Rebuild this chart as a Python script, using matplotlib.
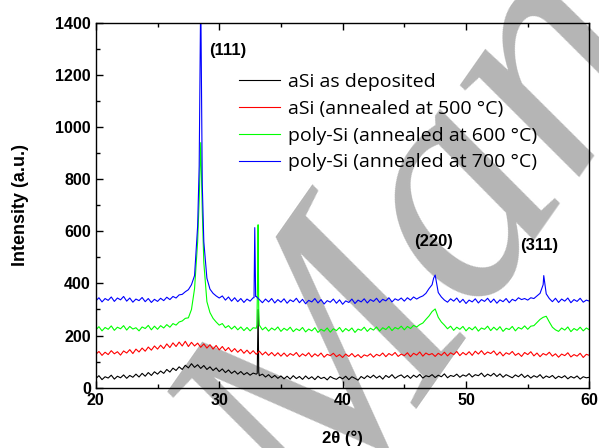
import matplotlib
matplotlib.use('Agg')
import matplotlib.pyplot as plt
import numpy as np

#Datos (2theta cada 0.25 grados, de 20 a 60)
two_theta = np.arange(20, 60.001, 0.25)

y_asdep = [35, 46, 31, 42, 37, 48, 33, 44, 38, 49,
           36, 47, 40, 52, 41, 55, 44, 58, 47, 61,
           52, 64, 55, 70, 60, 75, 66, 80, 70, 86,
           76, 92, 78, 88, 74, 85, 70, 80, 66, 76,
           62, 72, 58, 68, 55, 64, 52, 62, 50, 58,
           48, 56, 52, 46, 52, 41, 50, 38, 47, 36,
           45, 34, 44, 33, 46, 35, 43, 32, 45, 34,
           42, 31, 44, 35, 40, 30, 43, 36, 32, 41,
           34, 44, 31, 42, 36, 29, 43, 35, 46, 38,
           48, 37, 45, 33, 47, 39, 50, 36, 44, 49,
           38, 47, 36, 48, 40, 51, 37, 46, 42, 50,
           39, 48, 42, 53, 38, 47, 43, 52, 40, 49,
           44, 54, 41, 50, 46, 56, 42, 52, 45, 55,
           43, 53, 40, 50, 44, 38, 49, 42, 52, 39,
           48, 37, 46, 40, 50, 36, 45, 39, 47, 35,
           44, 38, 46, 34, 43, 37, 45, 33, 42, 38,
           40]
y_500 = [128, 139, 124, 136, 127, 142, 130, 138, 125, 141,
         133, 146, 131, 148, 137, 152, 140, 156, 144, 160,
         148, 163, 150, 168, 154, 172, 158, 175, 160, 178,
         158, 174, 160, 171, 155, 168, 152, 165, 148, 162,
         145, 158, 142, 154, 138, 150, 136, 147, 132, 144,
         130, 142, 128, 140, 126, 137, 124, 135, 122, 134,
         121, 133, 120, 131, 124, 135, 119, 130, 122, 134,
         118, 130, 121, 133, 117, 128, 123, 132, 119, 127,
         116, 129, 120, 131, 118, 127, 115, 126, 121, 130,
         117, 128, 122, 133, 119, 131, 124, 135, 120, 129,
         123, 134, 119, 132, 125, 137, 121, 133, 126, 131,
         120, 132, 124, 136, 122, 134, 127, 139, 123, 135,
         126, 138, 124, 140, 129, 142, 127, 137, 131, 141,
         125, 137, 122, 134, 128, 139, 124, 132, 120, 135,
         127, 138, 122, 133, 119, 131, 125, 136, 121, 130,
         117, 129, 123, 134, 118, 127, 121, 132, 116, 128,
         124]
y_600 = [222, 234, 218, 231, 224, 237, 220, 232, 226, 238,
         221, 235, 225, 230, 218, 233, 227, 239, 222, 236,
         224, 238, 229, 242, 232, 246, 240, 252, 256, 266,
         268, 300, 380, 560, 940, 480, 330, 288, 266, 252,
         240, 246, 230, 238, 225, 236, 222, 233, 219, 231,
         218, 230, 228, 240, 222, 232, 217, 229, 221, 233,
         216, 228, 220, 232, 215, 226, 219, 231, 214, 225,
         218, 230, 212, 224, 217, 229, 213, 226, 219, 231,
         214, 227, 218, 229, 212, 225, 220, 232, 216, 228,
         221, 233, 217, 230, 223, 235, 219, 231, 225, 236,
         222, 235, 227, 239, 233, 242, 248, 262, 275, 292,
         302, 270, 252, 240, 226, 236, 220, 232, 224, 235,
         218, 231, 222, 234, 217, 229, 224, 236, 219, 232,
         221, 234, 216, 228, 223, 235, 218, 231, 225, 237,
         224, 236, 238, 250, 262, 270, 274, 252, 232, 222,
         216, 229, 221, 233, 215, 227, 220, 232, 218, 229,
         222]
y_700 = [333, 345, 329, 342, 335, 348, 331, 344, 337, 350,
         332, 344, 328, 340, 334, 346, 330, 342, 327, 339,
         331, 343, 334, 347, 338, 350, 344, 356, 358, 368,
         376, 395, 430, 620, 1520, 560, 420, 378, 362, 352,
         344, 352, 336, 348, 332, 345, 330, 342, 327, 340,
         332, 345, 350, 338, 326, 340, 329, 342, 325, 338,
         328, 341, 324, 337, 330, 343, 326, 339, 322, 335,
         329, 342, 325, 338, 321, 334, 328, 340, 324, 337,
         320, 333, 327, 340, 323, 336, 329, 341, 325, 338,
         331, 343, 327, 339, 333, 345, 329, 341, 335, 344,
         332, 345, 336, 348, 340, 347, 352, 362, 380, 395,
         432, 365, 348, 336, 328, 341, 332, 344, 327, 339,
         323, 336, 329, 341, 325, 338, 331, 343, 327, 340,
         324, 337, 330, 342, 326, 339, 333, 345, 338, 342,
         336, 345, 342, 352, 362, 395, 360, 342, 330, 343,
         327, 340, 332, 344, 326, 338, 331, 343, 328, 336,
         332]

#Puntos extra en los picos estrechos
x_asdep_pk = [33.08, 33.15, 33.2]
y_asdep_pk = [55, 300, 60]
x_600_pk = [28.375, 28.625, 33.05, 33.12, 33.15, 33.2]
y_600_pk = [720, 680, 240, 450, 625, 300]
x_700_pk = [28.375, 28.625, 32.82, 32.88, 32.95, 47.375, 56.3]
y_700_pk = [850, 780, 345, 614, 350, 420, 430]

labels = ['aSi as deposited', 'aSi (annealed at 500 °C)',
          'poly-Si (annealed at 600 °C)', 'poly-Si (annealed at 700 °C)']
colores = ['black', 'red', '#00ff00', 'blue']

peak_names = ['(111)', '(220)', '(311)']
peak_pos = [(30.7, 1293), (47.4, 562), (55.9, 547)]


def merge(x, y, xe, ye):
    xx = np.concatenate([x, xe])
    yy = np.concatenate([y, ye])
    o = np.argsort(xx)
    return xx[o], yy[o]


series = [merge(two_theta, y_asdep, x_asdep_pk, y_asdep_pk),
          (two_theta, np.array(y_500)),
          merge(two_theta, y_600, x_600_pk, y_600_pk),
          merge(two_theta, y_700, x_700_pk, y_700_pk)]

fig = plt.figure(figsize=(5.99, 4.48), dpi=100)
ax = fig.add_axes([0.160, 0.1346, 0.824, 0.8147])
ax.patch.set_alpha(0)

#Marca de agua (detras de todo)
fig.text(325 / 599, 1 - 545 / 448, 'Manuscript', fontsize=235, family='Liberation Serif',
         style='italic', color='#b5b5b5', rotation=55, rotation_mode='anchor',
         ha='left', va='baseline', zorder=-5)

for (x, y), c, lab in zip(series, colores, labels):
    ax.plot(x, y, color=c, lw=0.8, label=lab)

for name, (px, py) in zip(peak_names, peak_pos):
    ax.text(px, py, name, ha='center', va='center', fontsize=12,
            fontweight='bold', family='Liberation Sans')

ax.set_xlim(20, 60)
ax.set_ylim(0, 1400)
ax.set_xticks([20, 30, 40, 50, 60])
ax.set_xticks([25, 35, 45, 55], minor=True)
ax.set_yticks(np.arange(0, 1401, 200))
ax.set_yticks(np.arange(100, 1400, 200), minor=True)
ax.tick_params(which='both', direction='in', top=True, right=False, width=1)
ax.tick_params(which='major', length=5)
ax.tick_params(which='minor', length=3)
for t in ax.get_xticklabels() + ax.get_yticklabels():
    t.set_fontweight('bold')
    t.set_fontsize(11.5)
    t.set_family('Liberation Sans')
for s in ax.spines.values():
    s.set_linewidth(1)

ax.set_xlabel('2θ (°)', fontsize=12, fontweight='bold', family='Liberation Sans')
ax.set_ylabel('Intensity (a.u.)', fontsize=13, fontweight='bold', family='Liberation Sans')
ax.xaxis.set_label_coords(0.5, -0.116)
ax.yaxis.set_label_coords(-0.136, 0.5)

leg = ax.legend(loc='upper left', bbox_to_anchor=(0.29, 0.862), frameon=False,
                prop={'family': 'Open Sans', 'size': 14}, handlelength=2.1,
                handletextpad=0.42, labelspacing=0.45, borderpad=0, borderaxespad=0)

fig.savefig('out.png', dpi=100)
